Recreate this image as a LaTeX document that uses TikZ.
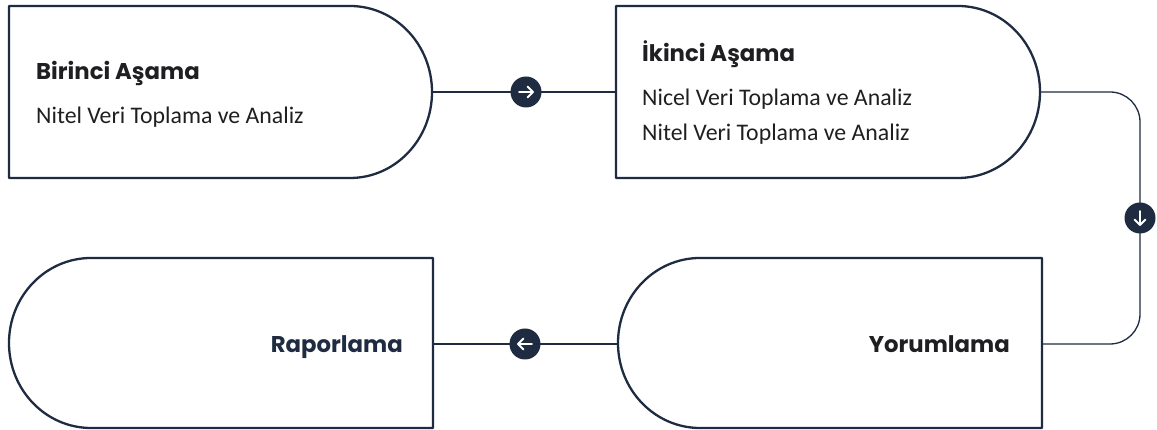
\documentclass[tikz,border=0pt]{standalone}
\usepackage{fontspec}
\setmainfont{Carlito}
\newfontfamily\headfont{Poppins}
\definecolor{navy}{HTML}{1E2B40}
\definecolor{ink}{HTML}{1F1F22}
\begin{document}
\begin{tikzpicture}[x=1pt,y=1pt,
  outline/.style={draw=navy,line width=2.3pt,line join=round},
  conn/.style={draw=navy,line width=1.3pt},
  holder/.style={draw=none,minimum width=424pt,minimum height=172pt,inner sep=0pt},
  dot/.style={circle,fill=navy,minimum size=31pt,inner sep=0pt},
  arr/.style={draw=white,line width=1.9pt,line cap=round,line join=round},
  head/.style={font=\headfont\bfseries\fontsize{22.8}{26}\selectfont,text=ink,inner sep=0pt},
  body/.style={font=\fontsize{23.8}{26}\selectfont,text=ink,inner sep=0pt}]
\useasboundingbox (0,0) rectangle (1157,430);
% holders (shape extents)
\node[holder] (b1) at (220.5,338) {};
\node[holder] (b2) at (828,338) {};
\node[holder,minimum height=170pt] (b3) at (830,86) {};
\node[holder,minimum height=170pt] (b4) at (221,86) {};
% outlines
\draw[outline] (9,424) -- (350,424) arc[start angle=90,end angle=-90,x radius=82,y radius=86] -- (9,252) -- cycle;
\draw[outline] (616,424) -- (958,424) arc[start angle=90,end angle=-90,x radius=82,y radius=86] -- (616,252) -- cycle;
\draw[outline] (1042,172) -- (700,172) arc[start angle=90,end angle=270,x radius=82,y radius=85] -- (1042,2) -- cycle;
\draw[outline] (433,172) -- (91,172) arc[start angle=90,end angle=270,x radius=82,y radius=85] -- (433,2) -- cycle;
% texts
\node[head,anchor=base west] (t1) at (36,350) {Birinci Aşama};
\node[body,anchor=base west] (t2) at (36,306) {Nitel Veri Toplama ve Analiz};
\node[head,anchor=base west] (t3) at (642,368) {İkinci Aşama};
\node[body,anchor=base west] (t4) at (642,324) {Nicel Veri Toplama ve Analiz};
\node[body,anchor=base west] (t5) at (642,289) {Nitel Veri Toplama ve Analiz};
\node[head,anchor=base east,text=navy] (t6) at (403,77) {Raporlama};
\node[head,anchor=base east] (t7) at (1010,77) {Yorumlama};
% connectors
\coordinate (k1) at (1140,338);
\coordinate (k2) at (1140,86);
\draw[conn] (b1.east) -- (b2.west);
\draw[conn,rounded corners=30pt] (b2.east) -- (k1) -- (k2) -- (b3.east);
\draw[conn] (b3.west) -- (b4.east);
% arrow dots
\node[dot] (c1) at (526,338) {};
\node[dot] (c2) at (1140,212) {};
\node[dot] (c3) at (525,86) {};
\draw[arr] ([xshift=-7pt]c1.center) -- ([xshift=7pt]c1.center);
\draw[arr] ([xshift=1.5pt,yshift=5.5pt]c1.center) -- ([xshift=7pt]c1.center) -- ([xshift=1.5pt,yshift=-5.5pt]c1.center);
\draw[arr] ([yshift=7pt]c2.center) -- ([yshift=-7pt]c2.center);
\draw[arr] ([xshift=-5.5pt,yshift=-1.5pt]c2.center) -- ([yshift=-7pt]c2.center) -- ([xshift=5.5pt,yshift=-1.5pt]c2.center);
\draw[arr] ([xshift=7pt]c3.center) -- ([xshift=-7pt]c3.center);
\draw[arr] ([xshift=-1.5pt,yshift=5.5pt]c3.center) -- ([xshift=-7pt]c3.center) -- ([xshift=-1.5pt,yshift=-5.5pt]c3.center);
\end{tikzpicture}
\end{document}
